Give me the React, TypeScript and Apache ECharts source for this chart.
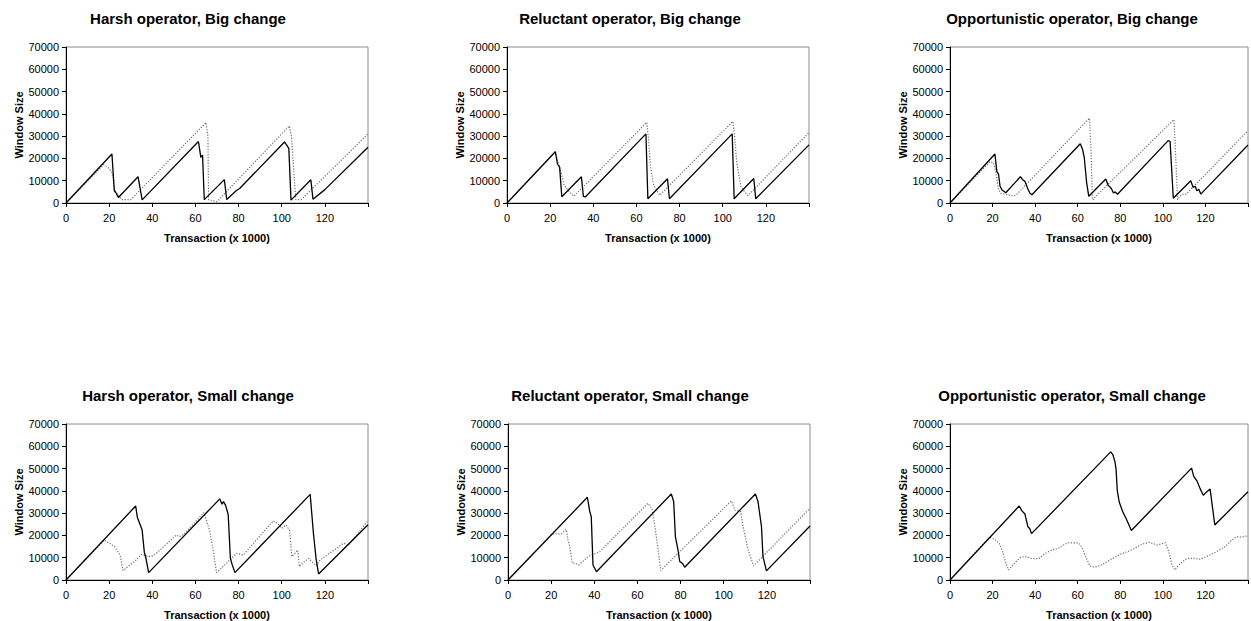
import React, { useEffect, useRef } from "react";
import * as echarts from "echarts";

type Pt = [number, number];

const panelTitles = [
  "Harsh operator, Big change",
  "Reluctant operator, Big change",
  "Opportunistic operator, Big change",
  "Harsh operator, Small change",
  "Reluctant operator, Small change",
  "Opportunistic operator, Small change",
];

const xTicks = [0, 20, 40, 60, 80, 100, 120, 140];
const yTicks = [0, 10000, 20000, 30000, 40000, 50000, 60000, 70000];
const xAxisTitle = "Transaction (x 1000)";
const yAxisTitle = "Window Size";

const harshBigSolid: Pt[] = [[0,0],[21.3,22000],[22.4,5500],[23.2,4500],[24.3,2500],[33.4,11800],[35.3,1400],[61.4,27600],[62.5,20500],[63.3,21500],[64.1,1500],[73.4,10500],[74.5,1600],[79,5600],[80.5,6500],[101.3,27400],[103.3,24500],[104.3,1300],[113.5,10400],[114.5,1700],[120,6000],[140,25000]];
const harshBigDotted: Pt[] = [[0,0],[17.5,17200],[20,15500],[21.5,13500],[22.5,6000],[24,3500],[26,1500],[30,1500],[64.9,36100],[65.8,30000],[66.1,1500],[68,1000],[70,600],[103.5,34600],[104.5,30000],[105.5,16000],[106.5,1500],[109,1500],[140,31000]];

const reluctantBigSolid: Pt[] = [[0,0],[22.4,23000],[23.4,17500],[24.4,16000],[25.4,2800],[34.5,11800],[35.4,3000],[36.4,2800],[64.4,31000],[65.3,1900],[74.4,10900],[75.3,1900],[104.4,31000],[105.3,1900],[114.4,11000],[115.3,1900],[140,26100]];
const reluctantBigDotted: Pt[] = [[0,0],[22.4,23000],[23.5,19000],[25,14000],[26.5,8000],[28,6000],[31,3000],[64.8,36200],[65.5,30000],[66.5,16500],[68,8000],[70.8,3500],[104.7,36600],[105.5,30000],[106.5,18000],[108.5,7000],[111.7,3300],[140,31600]];

const oppBigSolid: Pt[] = [[0,0],[21.1,22000],[22,14200],[22.8,13000],[23.5,7500],[24.5,5800],[26.2,4600],[33.1,11800],[34.3,10300],[35.2,9700],[36.5,6500],[37.5,4500],[38.5,3700],[61.2,26600],[62.3,24000],[63.1,20200],[64.2,9000],[65.2,3000],[73.2,10800],[74.3,8000],[75.8,6500],[76.8,4500],[77.6,5000],[78.7,3900],[102.5,28000],[103.4,27600],[104.9,2100],[113.1,10000],[114.2,7000],[115.2,7500],[116,5500],[116.9,6200],[117.8,4000],[140,26000]];
const oppBigDotted: Pt[] = [[0,0],[18.8,18500],[20.5,18000],[21.5,14000],[22.8,6000],[24,4300],[27,3800],[29.5,3200],[31,3500],[65.5,38100],[66.2,25000],[66.9,1500],[67.5,1500],[68,2500],[105.2,37400],[105.8,26000],[106.9,1500],[108,3000],[109.5,4000],[111,4000],[140,32500]];

const harshSmallSolid: Pt[] = [[0,0],[32.3,33200],[33.1,28000],[35.3,22400],[36.3,12500],[37,10000],[38.3,3300],[71.3,36400],[72.3,34000],[73,35200],[74,33500],[75.2,29300],[76.2,9800],[77,7000],[78.3,3300],[113.2,38400],[114.7,21000],[116,9000],[117.1,2700],[140,24800]];
const harshSmallDotted: Pt[] = [[0,0],[17.8,17900],[20.2,16500],[22.5,15000],[24,12700],[25.1,11200],[26.4,4200],[28.7,6000],[32.6,9000],[34.9,11500],[37.2,10800],[39.5,10500],[41.9,12000],[51.2,20200],[52.7,19400],[55,20900],[63.9,30200],[65.1,26900],[66.7,21700],[68.2,13500],[69.8,3300],[74.4,7500],[79.1,12000],[82.2,11200],[96.1,26600],[98.4,25100],[100,23200],[102,24700],[103.6,22400],[104.7,10500],[106.2,12000],[107.4,13500],[108.2,6000],[110,7800],[112.4,9700],[114,8200],[116,6400],[117.8,9000],[128.7,16500],[131,15700],[140,26600]];

const reluctantSmallSolid: Pt[] = [[0,0],[36.8,37100],[37.9,30700],[38.6,28400],[39.4,6700],[41,3700],[75.7,38600],[76.8,35200],[77.6,19500],[78.8,13500],[79.6,8300],[80.4,7800],[81.1,7200],[81.9,5700],[114.7,38600],[115.9,35200],[117.5,24000],[118.2,10500],[119.8,4100],[140,24200]];
const reluctantSmallDotted: Pt[] = [[0,0],[20.5,20700],[24.7,20700],[27,22700],[27.8,18000],[28.6,15000],[29.8,7600],[30.9,7600],[32.9,6800],[37.5,10800],[42.5,12600],[64.9,34400],[66.8,31700],[68,24700],[69.6,13500],[70.8,4300],[103.6,35500],[105.1,31400],[107.8,30800],[109,24000],[111.3,13500],[113.9,6300],[115.1,7600],[140,32200]];

const oppSmallSolid: Pt[] = [[0,0],[32.5,33200],[33.8,31000],[35.2,29600],[36.6,23900],[37.5,23000],[38.3,20800],[75.5,57500],[76.5,56300],[77.5,53000],[78,50000],[78.6,40000],[79.5,35000],[81,31000],[83,27000],[85.2,22200],[113.5,50200],[114.5,46500],[116,44500],[117.5,41000],[119,38000],[120,39000],[122.2,40800],[124.4,24700],[140,39600]];
const oppSmallDotted: Pt[] = [[0,0],[18.5,19200],[20.9,18300],[23.2,16400],[24.7,12700],[26.3,7400],[27.5,4500],[29.4,6700],[33.2,10200],[35.5,10500],[38.6,9600],[41.7,9600],[44.8,12000],[47.9,13500],[51,14200],[53.3,15700],[55.6,16700],[60.3,16700],[61.8,14900],[63.4,11200],[65.7,6300],[68,5700],[71.1,6700],[75.7,9300],[80.4,11700],[84.2,13000],[86.6,14200],[90.4,16100],[93.5,16900],[97.4,15700],[101.2,16700],[102.8,12700],[104.3,6700],[105.6,4500],[108.2,7400],[111.3,9700],[114.4,9700],[117.5,9300],[122.1,11200],[125.2,12700],[129.1,14900],[132.1,17600],[134.5,19400],[136.8,19200],[139.1,19700],[140,19800]];

const solidSeries = [harshBigSolid, reluctantBigSolid, oppBigSolid, harshSmallSolid, reluctantSmallSolid, oppSmallSolid];
const dottedSeries = [harshBigDotted, reluctantBigDotted, oppBigDotted, harshSmallDotted, reluctantSmallDotted, oppSmallDotted];

const FONT = '"Liberation Sans", Arial, Helvetica, sans-serif';

const gridPos = [
  { left: 66, top: 47 },
  { left: 507, top: 47 },
  { left: 950, top: 47 },
  { left: 66, top: 424 },
  { left: 508, top: 424 },
  { left: 950, top: 424 },
];
const titleCenters = [
  [188, 18], [630, 18], [1072, 18],
  [188, 395], [630, 395], [1072, 395],
];

export default function App() {
  const ref = useRef<HTMLDivElement>(null);
  useEffect(() => {
    if (!ref.current) return;
    const chart = echarts.init(ref.current, null, { renderer: "svg" });
    const grid = gridPos.map((g) => ({
      left: g.left, top: g.top, width: 302, height: 156,
      show: true, borderColor: "#8c8c8c", borderWidth: 1, backgroundColor: "#fff",
    }));
    const xAxis = gridPos.map((_, i) => ({
      type: "value", gridIndex: i, min: xTicks[0], max: xTicks[xTicks.length - 1], interval: 20,
      name: xAxisTitle, nameLocation: "middle", nameGap: 29,
      nameTextStyle: { fontFamily: FONT, fontSize: 11, fontWeight: "bold", color: "#000" },
      axisLine: { show: true, onZero: false, lineStyle: { color: "#000", width: 1 } },
      axisTick: { show: true, inside: false, length: 4, lineStyle: { color: "#000" } },
      axisLabel: {
        fontFamily: FONT, fontSize: 11, color: "#000", margin: 9,
        formatter: (v: number) => (v === 140 ? "" : String(v)),
      },
      splitLine: { show: false },
    }));
    const yAxis = gridPos.map((_, i) => ({
      type: "value", gridIndex: i, min: yTicks[0], max: yTicks[yTicks.length - 1], interval: 10000,
      name: yAxisTitle, nameLocation: "middle", nameGap: 40,
      nameTextStyle: { fontFamily: FONT, fontSize: 11, fontWeight: "bold", color: "#000" },
      axisLine: { show: true, onZero: false, lineStyle: { color: "#000", width: 1 } },
      axisTick: { show: true, inside: false, length: 4, lineStyle: { color: "#000" } },
      axisLabel: {
        fontFamily: FONT, fontSize: 11, color: "#000", margin: 7,
        formatter: (v: number) => String(v),
      },
      splitLine: { show: false },
    }));
    const series: any[] = [];
    for (let i = 0; i < 6; i++) {
      series.push({
        type: "line", xAxisIndex: i, yAxisIndex: i, data: dottedSeries[i],
        symbol: "none", lineStyle: { color: "#6e6e6e", width: 1.2, type: [1.2, 1.6] },
        z: 2,
      });
      series.push({
        type: "line", xAxisIndex: i, yAxisIndex: i, data: solidSeries[i],
        symbol: "none", lineStyle: { color: "#000", width: 1.3 },
        z: 3,
      });
    }
    const graphic = panelTitles.map((t, i) => ({
      type: "text", x: titleCenters[i][0], y: titleCenters[i][1],
      style: {
        text: t, fontFamily: FONT, fontSize: 15, fontWeight: "bold", fill: "#000",
        align: "center", verticalAlign: "middle",
      },
    }));
    chart.setOption({
      animation: false,
      backgroundColor: "#fff",
      grid, xAxis, yAxis, series, graphic,
    } as any);
    return () => chart.dispose();
  }, []);
  return (
    <div
      ref={ref}
      style={{ position: "absolute", left: 0, top: 0, width: 1251, height: 621, background: "#fff" }}
    />
  );
}
